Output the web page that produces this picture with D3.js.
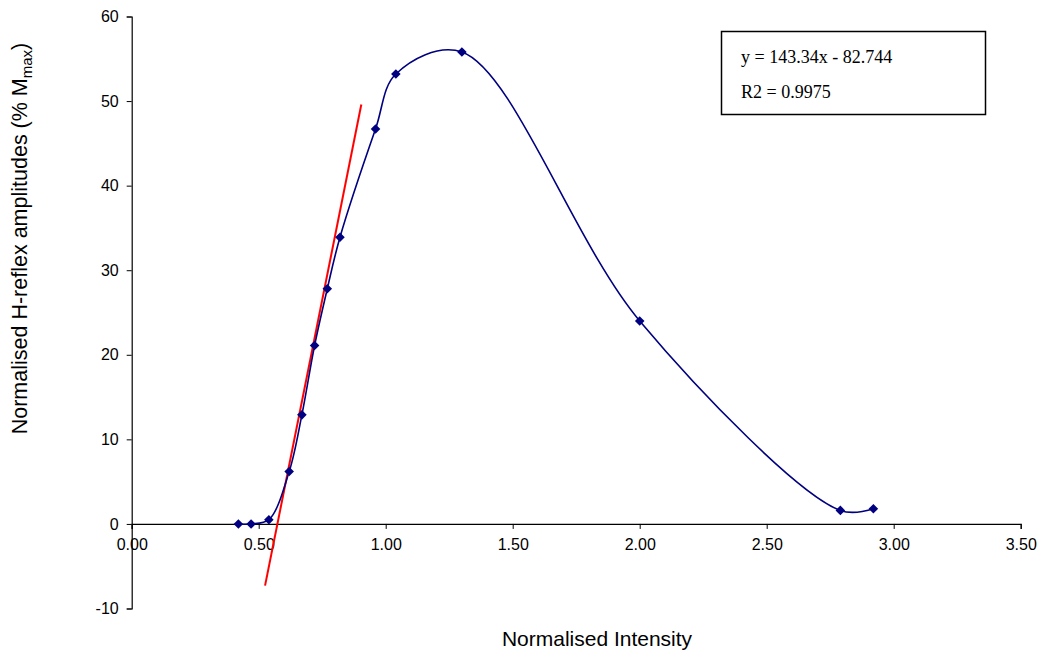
<!DOCTYPE html>
<html><head><meta charset="utf-8">
<script src="https://cdn.jsdelivr.net/npm/d3@7"></script>
<style>body{margin:0;background:#fff}svg{display:block}</style>
</head><body>
<script>
const intensity = [0.42, 0.47, 0.54, 0.62, 0.67, 0.72, 0.77, 0.82, 0.96, 1.04, 1.30, 2.00, 2.79, 2.92];
const amplitude = [0.0, 0.0, 0.5, 6.2, 12.9, 21.1, 27.8, 33.9, 46.7, 53.2, 55.8, 24.0, 1.6, 1.8];
const fitLineX = [0.525, 0.904];
const fitLineY = [-7.3, 49.6];
const xTicks = [0, 0.5, 1, 1.5, 2, 2.5, 3, 3.5];
const yTicks = [-10, 0, 10, 20, 30, 40, 50, 60];
const equationText = ["y = 143.34x - 82.744", "R2 = 0.9975"];

const W = 1043, H = 655;
const svg = d3.select("body").append("svg").attr("width", W).attr("height", H);
svg.append("rect").attr("width", W).attr("height", H).attr("fill", "#fff");

const x = d3.scaleLinear().domain([0, 3.5]).range([131.7, 1020.7]);
const y = d3.scaleLinear().domain([-10, 60]).range([608.5, 16.5]);

// axes
const yAxis = svg.append("g").attr("transform", `translate(${x(0)},0)`)
  .call(d3.axisLeft(y).tickValues(yTicks).tickSize(5).tickPadding(8).tickFormat(d => String(d)));
const xAxis = svg.append("g").attr("transform", `translate(0,${y(0)})`)
  .call(d3.axisBottom(x).tickValues(xTicks).tickSize(5).tickPadding(10).tickFormat(d => d.toFixed(2)));
[xAxis, yAxis].forEach(g => {
  g.select(".domain").attr("stroke", "#000").attr("stroke-width", 1.2);
  g.selectAll(".tick line").attr("stroke", "#000").attr("stroke-width", 1);
  g.selectAll("text").attr("font-family", "Liberation Sans, Arial, sans-serif").attr("font-size", 16).attr("fill", "#000");
});

// fit line
const fitData = fitLineX.map((v, i) => [v, fitLineY[i]]);
svg.append("path").datum(fitData)
  .attr("d", d3.line().x(d => x(d[0])).y(d => y(d[1])))
  .attr("stroke", "#ff0000").attr("stroke-width", 2).attr("fill", "none");

// smoothed series
const pts = intensity.map((v, i) => [v, amplitude[i]]);
svg.append("path").datum(pts)
  .attr("d", d3.line().x(d => x(d[0])).y(d => y(d[1])).curve(d3.curveCatmullRom.alpha(0.5)))
  .attr("stroke", "#000080").attr("stroke-width", 1.6).attr("fill", "none");

svg.selectAll(".mk").data(pts).join("path").attr("class", "mk")
  .attr("d", d3.symbol().type(d3.symbolSquare).size(46))
  .attr("transform", d => `translate(${x(d[0])},${y(d[1])}) rotate(45)`)
  .attr("fill", "#000080");

// equation box
svg.append("rect").attr("x", 721.5).attr("y", 31.5).attr("width", 264).attr("height", 83)
  .attr("fill", "#fff").attr("stroke", "#000").attr("stroke-width", 1.5);
svg.selectAll(".eq").data(equationText).join("text").attr("class", "eq")
  .attr("x", 741).attr("y", (d, i) => 63 + i * 35)
  .attr("font-family", "Liberation Serif, Times New Roman, serif").attr("font-size", 18)
  .attr("fill", "#000").text(d => d);

// axis titles
svg.append("text").attr("x", 597).attr("y", 646).attr("text-anchor", "middle")
  .attr("font-family", "Liberation Sans, Arial, sans-serif").attr("font-size", 21).text("Normalised Intensity");
const yt = svg.append("text").attr("transform", "translate(27,238.5) rotate(-90)").attr("text-anchor", "middle")
  .attr("font-family", "Liberation Sans, Arial, sans-serif").attr("font-size", 21.5);
yt.append("tspan").text("Normalised H-reflex amplitudes (% M");
yt.append("tspan").attr("font-size", 15).attr("dy", 5).text("max");
yt.append("tspan").attr("dy", -5).text(")");
</script>
</body></html>
